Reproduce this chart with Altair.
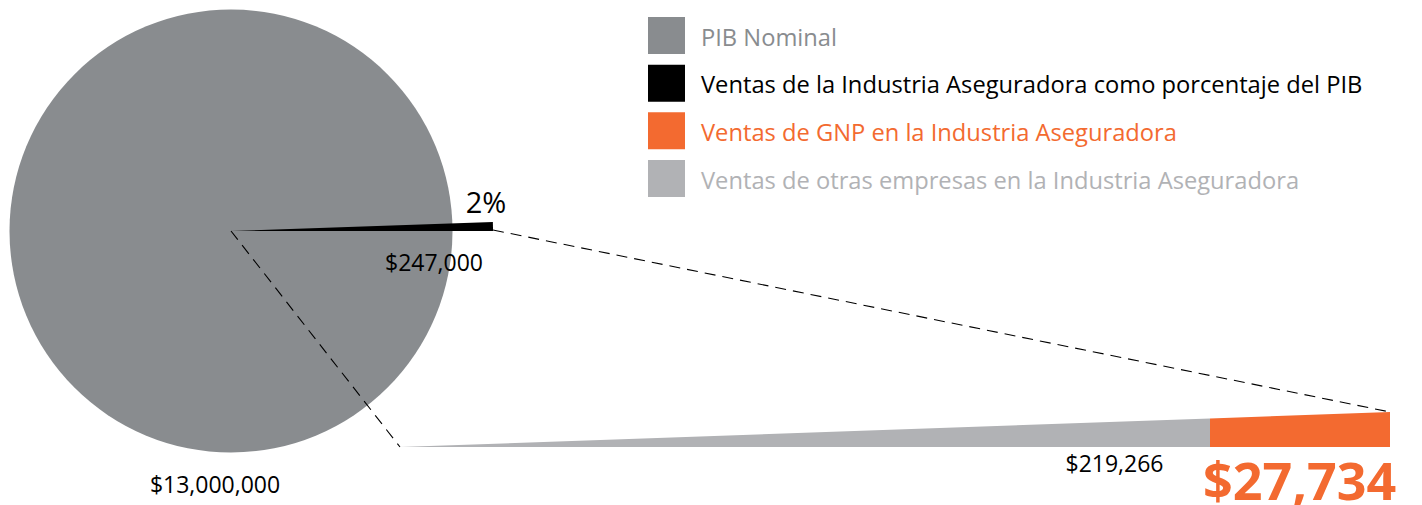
import math
import altair as alt
import pandas as pd

# ---- data ----
categories = [
    "PIB Nominal",
    "Ventas de la Industria Aseguradora como porcentaje del PIB",
    "Ventas de GNP en la Industria Aseguradora",
    "Ventas de otras empresas en la Industria Aseguradora",
]
pib_nominal = 13000000
ventas_industria = 247000
ventas_gnp = 27734
ventas_otras = 219266

# ---- styles ----
colors = ["#898c8f", "#000000", "#f36a30", "#b1b2b5"]
FONT = "Open Sans"

color_enc = alt.Color("cat:N", scale=alt.Scale(domain=categories, range=colors), legend=None)

# grey full pie (PIB)
pib_df = pd.DataFrame({"cat": [categories[0]], "value": [pib_nominal]})
pie = alt.Chart(pib_df).mark_arc(radius=221.5, stroke=None).encode(
    theta=alt.Theta("value:Q"),
    color=color_enc,
    x=alt.value(223), y=alt.value(223),
)

# black sliver (industry)
ind_df = pd.DataFrame({"cat": [categories[1]], "value": [ventas_industria],
                       "share": [ventas_industria / pib_nominal]})
wedge = alt.Chart(ind_df).mark_arc(radius=262, stroke=None).encode(
    theta=alt.Theta("value:Q", scale=alt.Scale(domain=[0, ventas_industria],
                                               range=[math.pi / 2, math.pi / 2 - 0.0345])),
    color=color_enc,
    x=alt.value(223), y=alt.value(223),
)

# dashed connectors
dash1 = alt.Chart(pd.DataFrame({"a": [0]})).mark_rule(strokeDash=[11, 7], strokeWidth=1.1, color="black").encode(
    x=alt.value(223), y=alt.value(223), x2=alt.value(392), y2=alt.value(439))
dash2 = alt.Chart(pd.DataFrame({"a": [0]})).mark_rule(strokeDash=[11, 7], strokeWidth=1.1, color="black").encode(
    x=alt.value(485), y=alt.value(222), x2=alt.value(1382), y2=alt.value(404))

# zoomed triangle (otras + GNP)
tri_df = pd.DataFrame({
    "cat": [categories[3], categories[3], categories[2], categories[2]],
    "v": [0, ventas_otras, ventas_otras, ventas_otras + ventas_gnp],
})
brk = [0, ventas_otras, ventas_otras + ventas_gnp]
tri = alt.Chart(tri_df).mark_area(interpolate="linear").encode(
    x=alt.X("v:Q", scale=alt.Scale(domain=brk, range=[392, 1202, 1382]), axis=None),
    y=alt.Y("v:Q", scale=alt.Scale(domain=brk, range=[439, 410.5, 404]), axis=None, stack=None),
    y2=alt.datum(0),
    color=color_enc,
    detail="cat:N",
)

# legend
leg_df = pd.DataFrame({"cat": categories, "i": list(range(len(categories)))})
leg_y = alt.Y("i:Q", scale=alt.Scale(domain=[0, 3], range=[27.5, 170.5]), axis=None)
leg_sq = alt.Chart(leg_df).mark_square(size=37 * 37, opacity=1, strokeWidth=0).encode(
    x=alt.value(658.5), y=leg_y, color=color_enc)
leg_tx = alt.Chart(leg_df).mark_text(align="left", baseline="alphabetic", dy=10,
                                     font=FONT, fontSize=23.7).encode(
    x=alt.value(693), y=leg_y, text="cat:N", color=color_enc)

# value labels
pct = alt.Chart(ind_df).mark_text(font=FONT, fontSize=29, align="center", baseline="alphabetic",
                                  color="black").encode(
    x=alt.value(478), y=alt.value(205), text=alt.Text("share:Q", format=".0%"))
ind_lbl = alt.Chart(ind_df).mark_text(font=FONT, fontSize=23, align="center", baseline="alphabetic",
                                      color="black").encode(
    x=alt.value(426), y=alt.value(263), text=alt.Text("value:Q", format="$,.0f"))
pib_lbl = alt.Chart(pib_df).mark_text(font=FONT, fontSize=23, align="center", baseline="alphabetic",
                                      color="black").encode(
    x=alt.value(207), y=alt.value(485), text=alt.Text("value:Q", format="$,.0f"))
otras_df = pd.DataFrame({"value": [ventas_otras]})
otras_lbl = alt.Chart(otras_df).mark_text(font=FONT, fontSize=23, align="center", baseline="alphabetic",
                                          color="black").encode(
    x=alt.value(1106.5), y=alt.value(464), text=alt.Text("value:Q", format="$,.0f"))
gnp_df = pd.DataFrame({"value": [ventas_gnp]})
gnp_lbl = alt.Chart(gnp_df).mark_text(font=FONT, fontSize=52, fontWeight="bold", align="left",
                                      baseline="alphabetic", color=colors[2]).encode(
    x=alt.value(1195), y=alt.value(492), text=alt.Text("value:Q", format="$,.0f"))

chart = alt.layer(
    pie, wedge, dash1, dash2, tri, leg_sq, leg_tx, pct, ind_lbl, pib_lbl, otras_lbl, gnp_lbl
).resolve_scale(
    x="independent", y="independent", theta="independent"
).properties(
    width=1406, height=497, padding=0, autosize="none", background="white"
).configure_view(stroke=None)

chart.save("out.html", embed_options={"renderer": "svg", "actions": False})
